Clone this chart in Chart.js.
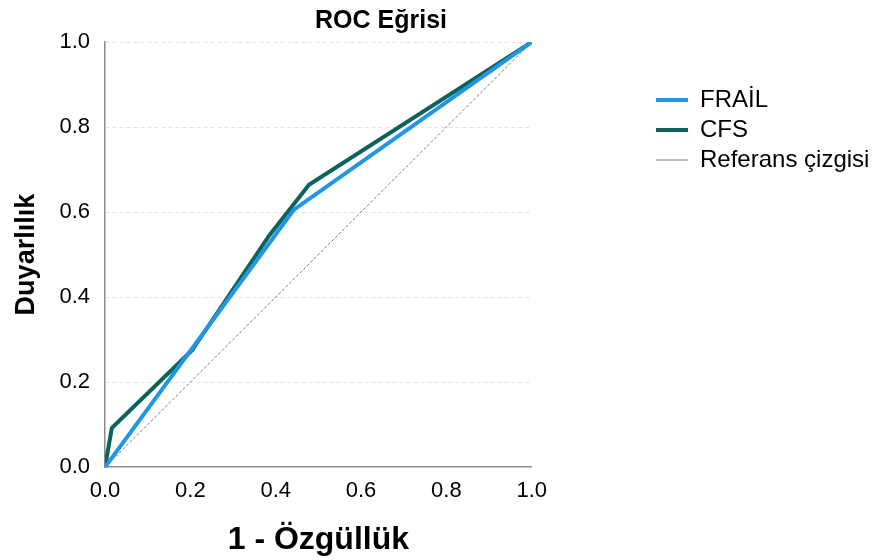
<!DOCTYPE html>
<html>
<head>
<meta charset="utf-8">
<script src="https://cdn.jsdelivr.net/npm/chart.js@4"></script>
<style>
  html, body { margin: 0; padding: 0; background: #fff; }
  #wrap { width: 889px; height: 560px; }
</style>
</head>
<body>
<div id="wrap"><canvas id="grafica" width="889" height="560"></canvas></div>
<script>
// ROC values
const frailX = [0, 0.442, 1];
const frailY = [0, 0.605, 1];
const cfsX = [0, 0.016, 0.204, 0.385, 0.478, 1];
const cfsY = [0, 0.092, 0.275, 0.545, 0.664, 1];
const refX = [0, 1];
const refY = [0, 1];
const tickValues = [0, 0.2, 0.4, 0.6, 0.8, 1.0];

const seriesNames = ['FRAİL', 'CFS', 'Referans çizgisi'];

function pairs(xs, ys) {
  return xs.map(function (x, i) { return { x: x, y: ys[i] }; });
}

const fontFam = '"Liberation Sans", Arial, sans-serif';

// moves title + legend to where the reference has them
const placeBlocks = {
  id: 'placeBlocks',
  afterLayout: function (chart) {
    const t = chart.titleBlock;
    if (t) { t.left = 0; t.right = 762; }
    const lg = chart.legend;
    if (lg) {
      lg.left = 650; lg.right = 889;
      lg.top = 82; lg.bottom = 560;
    }
  }
};

document.addEventListener('DOMContentLoaded', function () {
  const ctx = document.getElementById('grafica');
  new Chart(ctx, {
    type: 'line',
    data: {
      datasets: [{
        label: seriesNames[0],
        data: pairs(frailX, frailY),
        borderColor: '#2196e6',
        backgroundColor: '#2196e6',
        borderWidth: 4,
        pointRadius: 0,
        tension: 0
      }, {
        label: seriesNames[1],
        data: pairs(cfsX, cfsY),
        borderColor: '#0d625c',
        backgroundColor: '#0d625c',
        borderWidth: 4,
        pointRadius: 0,
        tension: 0
      }, {
        label: seriesNames[2],
        data: pairs(refX, refY),
        borderColor: '#7a7a7a',
        backgroundColor: '#7a7a7a',
        borderWidth: 1,
        borderDash: [3, 2],
        pointRadius: 0,
        tension: 0
      }]
    },
    options: {
      responsive: false,
      animation: false,
      layout: { padding: { left: 0, right: 180, top: 0, bottom: 0 } },
      scales: {
        x: {
          type: 'linear',
          min: 0,
          max: 1,
          afterBuildTicks: function (s) { s.ticks = tickValues.map(function (v) { return { value: v }; }); },
          grid: { display: false, drawTicks: false },
          border: { display: true, color: '#8c8c8c', width: 1.5 },
          ticks: {
            color: '#000',
            padding: 11,
            maxRotation: 0,
            font: { size: 22, family: fontFam },
            callback: function (v) { return Number(v).toFixed(1); }
          },
          title: {
            display: true,
            text: '1 - Özgüllük',
            color: '#000',
            padding: { top: 5, bottom: 1 },
            font: { size: 32, weight: 'bold', family: fontFam }
          }
        },
        y: {
          min: 0,
          max: 1,
          afterBuildTicks: function (s) { s.ticks = tickValues.map(function (v) { return { value: v }; }); },
          grid: {
            color: function (c) { return c.tick && c.tick.value === 0 ? 'rgba(0,0,0,0)' : '#ebe2d2'; },
            drawTicks: false,
            lineWidth: 1
          },
          border: { display: true, color: '#8c8c8c', width: 1.5, dash: [4, 3] },
          ticks: {
            color: '#000',
            padding: 15,
            font: { size: 22, family: fontFam },
            callback: function (v) { return Number(v).toFixed(1); }
          },
          title: {
            display: true,
            text: 'Duyarlılık',
            color: '#000',
            padding: { top: 10, bottom: 2 },
            font: { size: 27, weight: 'bold', family: fontFam }
          }
        }
      },
      plugins: {
        title: {
          display: true,
          text: 'ROC Eğrisi',
          color: '#000',
          padding: { top: 6, bottom: 6 },
          font: { size: 25, weight: 'bold', family: fontFam }
        },
        legend: {
          position: 'right',
          align: 'start',
          labels: {
            color: '#000',
            usePointStyle: true,
            pointStyle: 'line',
            pointStyleWidth: 32,
            padding: 6,
            font: { size: 24, family: fontFam }
          }
        },
        tooltip: { enabled: false }
      }
    },
    plugins: [placeBlocks]
  });
});
</script>
</body>
</html>
